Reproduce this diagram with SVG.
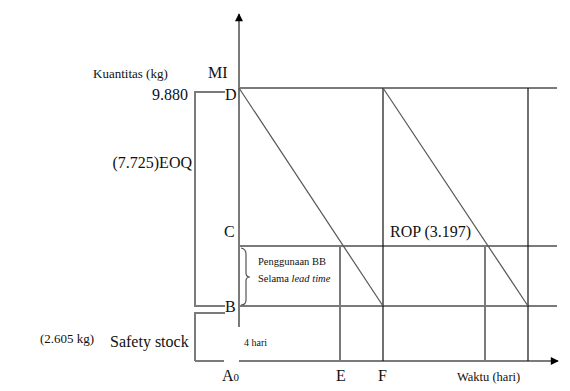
<svg xmlns="http://www.w3.org/2000/svg" width="570" height="391" viewBox="0 0 570 391">
<style>
.t{font-family:"Liberation Serif","Times New Roman",serif;fill:#111}
.g{stroke:#7a7a7a;stroke-width:2;fill:none}
.k{stroke:#111;stroke-width:1.2;fill:none}
.d{stroke:#555;stroke-width:1.2;fill:none}
</style>
<defs>
<marker id="ah" viewBox="0 0 10 10" refX="9" refY="5" markerWidth="9" markerHeight="8" markerUnits="userSpaceOnUse" orient="auto">
<path d="M0,0 L10,5 L0,10 z" fill="#000"/>
</marker>
</defs>
<rect width="570" height="391" fill="#fff"/>
<g id="connectors">
<line class="g" x1="239" y1="327" x2="239" y2="14" marker-end="url(#ah)"/>
<line class="g" x1="239" y1="361" x2="558" y2="361" marker-end="url(#ah)"/>
<line class="g" x1="195" y1="361" x2="224" y2="361"/>
<line class="g" x1="239" y1="88" x2="557" y2="88"/>
<line class="g" x1="239" y1="246" x2="557" y2="246"/>
<line class="g" x1="239" y1="306" x2="557" y2="306"/>
<line class="g" x1="340" y1="246" x2="340" y2="361"/>
<line class="k" x1="383" y1="88" x2="383" y2="361"/>
<line class="g" x1="485" y1="246" x2="485" y2="361"/>
<line class="k" x1="528" y1="88" x2="528" y2="361"/>
<line class="d" x1="239" y1="88" x2="383" y2="306"/>
<line class="d" x1="383" y1="88" x2="528" y2="306"/>
<polyline class="g" points="225,92 195,92 195,306 225,306"/>
<polyline class="g" points="225,313 195,313 195,361"/>
<path class="d" d="M241,248 Q246,249 246,254 L246,273 Q246,277 250,277 Q246,277 246,281 L246,300 Q246,305 241,305"/>
</g>
<g id="labels">
<text class="t" x="93" y="78" font-size="13">Kuantitas (kg)</text>
<text class="t" x="208" y="78" font-size="16">MI</text>
<text class="t" x="188" y="100" font-size="16" text-anchor="end">9.880</text>
<text class="t" x="192" y="168" font-size="16" text-anchor="end">(7.725)EOQ</text>
<text class="t" x="40" y="343" font-size="13">(2.605 kg)</text>
<text class="t" x="110" y="347" font-size="16">Safety stock</text>
</g>
<g id="node-D"><text class="t" x="225" y="100" font-size="16">D</text></g>
<g id="node-C"><text class="t" x="224" y="237" font-size="16">C</text></g>
<g id="node-B"><text class="t" x="225" y="312" font-size="16">B</text></g>
<g id="node-A"><text class="t" x="222" y="381" font-size="16">A<tspan font-size="11">0</tspan></text></g>
<g id="node-E"><text class="t" x="336" y="381" font-size="16">E</text></g>
<g id="node-F"><text class="t" x="378" y="381" font-size="16">F</text></g>
<g id="node-waktu"><text class="t" x="457" y="381" font-size="12.5">Waktu (hari)</text></g>
<g id="node-rop"><text class="t" x="390" y="237" font-size="16">ROP (3.197)</text></g>
<g id="node-penggunaan">
<text class="t" x="258" y="265" font-size="10.5">Penggunaan BB</text>
<text class="t" x="258" y="282" font-size="10.5">Selama <tspan font-style="italic">lead time</tspan></text>
</g>
<g id="node-4hari"><text class="t" x="244" y="346" font-size="10">4 hari</text></g>
</svg>
